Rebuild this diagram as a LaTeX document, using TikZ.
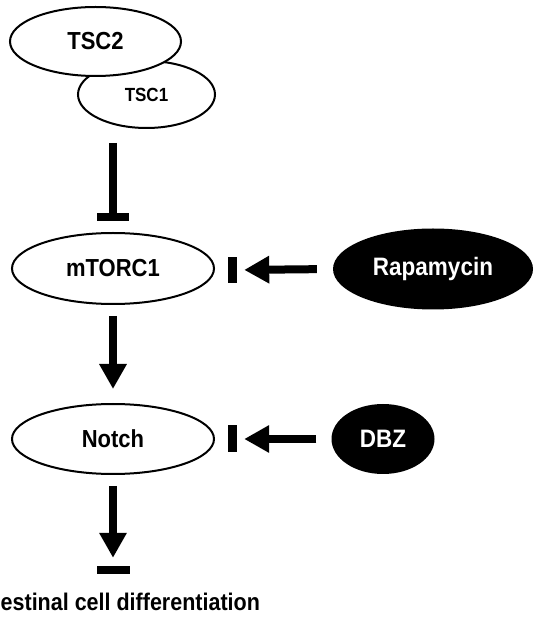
\documentclass[tikz,border=0pt]{standalone}
\usepackage{fontspec}
\setmainfont{Liberation Sans}
\usetikzlibrary{shapes.geometric,arrows.meta}
\newcommand\tall[1]{\scalebox{1}[1.12]{#1}}
\tikzset{
  prot/.style={ellipse,draw,line width=2pt,fill=white,inner sep=0pt,
    font=\fontsize{22}{26}\selectfont\bfseries},
  drug/.style={ellipse,fill=black,text=white,inner sep=0pt,
    font=\fontsize{22.5}{26}\selectfont\bfseries},
  vbar/.style={rectangle,fill=black,inner sep=0pt,minimum width=9pt,minimum height=26pt},
  hbar/.style={rectangle,fill=black,inner sep=0pt,minimum width=33pt,minimum height=8pt},
  fat/.style={line width=8pt,-{Triangle[width=26pt,length=25pt]}},
  blunt/.style={line width=8pt}
}

\begin{document}
\begin{tikzpicture}[x=1pt,y=1pt]
    \useasboundingbox (0,0) rectangle (540,622);

    \node [prot, minimum width=137pt, minimum height=67pt,
      font=\fontsize{17}{20}\selectfont\bfseries] (tsc1) at (146.5, 527.5) {\tall{TSC1}};
    \node [prot, minimum width=171pt, minimum height=69pt] (tsc2) at (95.5, 580.5) {\tall{TSC2}};
    \coordinate (tscend) at (113, 479);
    \node [hbar, minimum width=32pt] (tbar) at (113, 405) {};

    \node [prot, minimum width=202pt, minimum height=71pt] (mtor) at (113, 353.5) {\tall{mTORC1}};
    \node [vbar] (rbar) at (232.5, 352) {};
    \node [drug, minimum width=200pt, minimum height=81pt] (rapa) at (433, 353) {\tall{Rapamycin}};

    \node [prot, minimum width=202pt, minimum height=70pt] (notch) at (113, 183) {\tall{Notch}};
    \node [vbar, minimum height=27pt] (nbar) at (232.5, 183) {};
    \node [drug, minimum width=103pt, minimum height=70pt] (dbz) at (383, 183) {\tall{DBZ}};

    \node [hbar] (dbar) at (113, 52) {};
    \node [anchor=base west, inner sep=0pt, font=\fontsize{21.5}{26}\selectfont\bfseries] (diff)
      at (0.5, 12) {\tall{estinal cell differentiation}};

    \draw [blunt] (tscend) -- (tbar.north);
    \draw [fat, shorten <=16pt, shorten >=7pt] (rapa.west) -- (rbar.east);
    \draw [fat, shorten <=15pt, shorten >=7pt] (dbz.west) -- (nbar.east);
    \draw [fat, shorten <=11pt, shorten >=14pt] (mtor.south) -- (notch.north);
    \draw [fat, shorten <=11pt, shorten >=8pt] (notch.south) -- (dbar.north);
  \end{tikzpicture}
\end{document}
